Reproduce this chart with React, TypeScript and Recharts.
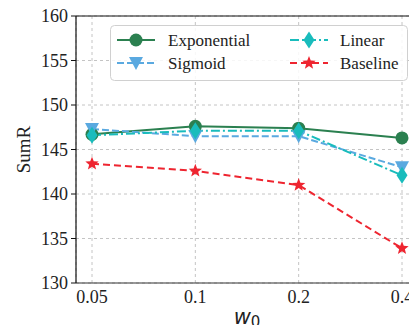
import React from "react"
import {
  CartesianGrid,
  Legend,
  Line,
  LineChart,
  ReferenceLine,
  XAxis,
  YAxis,
} from "recharts"

const w0 = ["0.05", "0.1", "0.2", "0.4"]
const exponential = [146.7, 147.6, 147.4, 146.3]
const sigmoid = [147.3, 146.5, 146.5, 143.0]
const linear = [146.6, 147.1, 147.1, 142.1]
const baseline = [143.4, 142.6, 141.0, 133.9]
const yTicks = [130, 135, 140, 145, 150, 155, 160]

const data = w0.map((w, i) => ({
  w,
  Exponential: exponential[i],
  Sigmoid: sigmoid[i],
  Linear: linear[i],
  Baseline: baseline[i],
}))

const SERIF = "Liberation Serif, DejaVu Serif, serif"

type Shape = "circle" | "triDown" | "diamond" | "star"

const series: { key: string; color: string; dash?: string; shape: Shape }[] = [
  { key: "Exponential", color: "#2b8050", shape: "circle" },
  { key: "Sigmoid", color: "#5aa9e0", dash: "7 3", shape: "triDown" },
  { key: "Linear", color: "#19bcbc", dash: "9 3 2 3", shape: "diamond" },
  { key: "Baseline", color: "#ee2530", dash: "7 4", shape: "star" },
]

function marker(shape: Shape, cx: number, cy: number, color: string, k?: string) {
  if (shape === "circle") return <circle key={k} cx={cx} cy={cy} r={6.5} fill={color} />
  if (shape === "triDown")
    return (
      <path
        key={k}
        d={`M${cx - 7},${cy - 6} L${cx + 7},${cy - 6} L${cx},${cy + 7} Z`}
        fill={color}
      />
    )
  if (shape === "diamond")
    return (
      <path
        key={k}
        d={`M${cx},${cy - 8.5} L${cx + 5.5},${cy} L${cx},${cy + 8.5} L${cx - 5.5},${cy} Z`}
        fill={color}
      />
    )
  const pts: string[] = []
  for (let i = 0; i < 10; i++) {
    const r = i % 2 === 0 ? 7 : 3
    const a = -Math.PI / 2 + (i * Math.PI) / 5
    pts.push(`${cx + r * Math.cos(a)},${cy + r * Math.sin(a)}`)
  }
  return <polygon key={k} points={pts.join(" ")} fill={color} />
}

// legend slots: [x of sample line start, row center y, text x]
const slots = [
  [7, 15, 58],
  [7, 38, 58],
  [180, 15, 230],
  [180, 38, 230],
]

function LegendBox() {
  return (
    <svg width={298} height={56} style={{ display: "block" }}>
      <rect x={0.5} y={0.5} width={297} height={55} rx={4} fill="rgba(255,255,255,0.85)" stroke="#d0d0d0" />
      {series.map((s, i) => {
        const [x, y, tx] = slots[i]
        return (
          <g key={s.key}>
            <line x1={x} y1={y} x2={x + 38} y2={y} stroke={s.color} strokeWidth={2} strokeDasharray={s.dash} />
            {marker(s.shape, x + 19, y, s.color)}
            <text x={tx} y={y} dominantBaseline="central" fontFamily={SERIF} fontSize={17} fill="#222">
              {s.key}
            </text>
          </g>
        )
      })}
    </svg>
  )
}

export default function App() {
  return (
    <div style={{ margin: -8, width: 417, height: 333, overflow: "hidden", background: "#fff" }}>
      <LineChart width={426} height={333} data={data} margin={{ top: 16, right: 8, bottom: 0, left: 0 }}>
        <CartesianGrid stroke="#c4c4c4" strokeDasharray="3 3" />
        <XAxis
          dataKey="w"
          padding={{ left: 16, right: 16 }}
          height={50}
          tickSize={0}
          tickMargin={7}
          axisLine={{ stroke: "#333", strokeWidth: 1.2 }}
          tick={{ fontFamily: SERIF, fontSize: 18, fill: "#222" }}
          label={(props: any) => {
            const vb = props.viewBox
            return (
              <text
                x={vb.x + vb.width / 2}
                y={324}
                textAnchor="middle"
                fontFamily="DejaVu Sans, sans-serif"
                fontStyle="italic"
                fontSize={21}
                fill="#222"
              >
                w
                <tspan fontStyle="normal" fontSize={15} dy={3}>
                  0
                </tspan>
              </text>
            )
          }}
        />
        <YAxis
          domain={[130, 160]}
          ticks={yTicks}
          width={76}
          tickSize={5}
          tickMargin={3}
          axisLine={{ stroke: "#111", strokeWidth: 1.2 }}
          tickLine={{ stroke: "#111" }}
          tick={{ fontFamily: SERIF, fontSize: 18, fill: "#222" }}
          label={(props: any) => {
            const vb = props.viewBox
            const cy = vb.y + vb.height / 2
            return (
              <text
                x={23}
                y={cy}
                transform={`rotate(-90, 23, ${cy})`}
                textAnchor="middle"
                dominantBaseline="central"
                fontFamily={SERIF}
                fontSize={19}
                fill="#222"
              >
                SumR
              </text>
            )
          }}
        />
        <ReferenceLine y={160} stroke="#111" strokeWidth={1.2} />
        {series.map((s) => (
          <Line
            key={s.key}
            dataKey={s.key}
            stroke={s.color}
            strokeWidth={2}
            strokeDasharray={s.dash}
            isAnimationActive={false}
            dot={(p: any) => marker(s.shape, p.cx, p.cy, s.color, `${s.key}-${p.index}`)}
            activeDot={false}
          />
        ))}
        <Legend
          layout="vertical"
          align="center"
          verticalAlign="middle"
          content={() => <LegendBox />}
          wrapperStyle={{ left: 110, top: 25, width: 298, height: 56 }}
        />
      </LineChart>
    </div>
  )
}
